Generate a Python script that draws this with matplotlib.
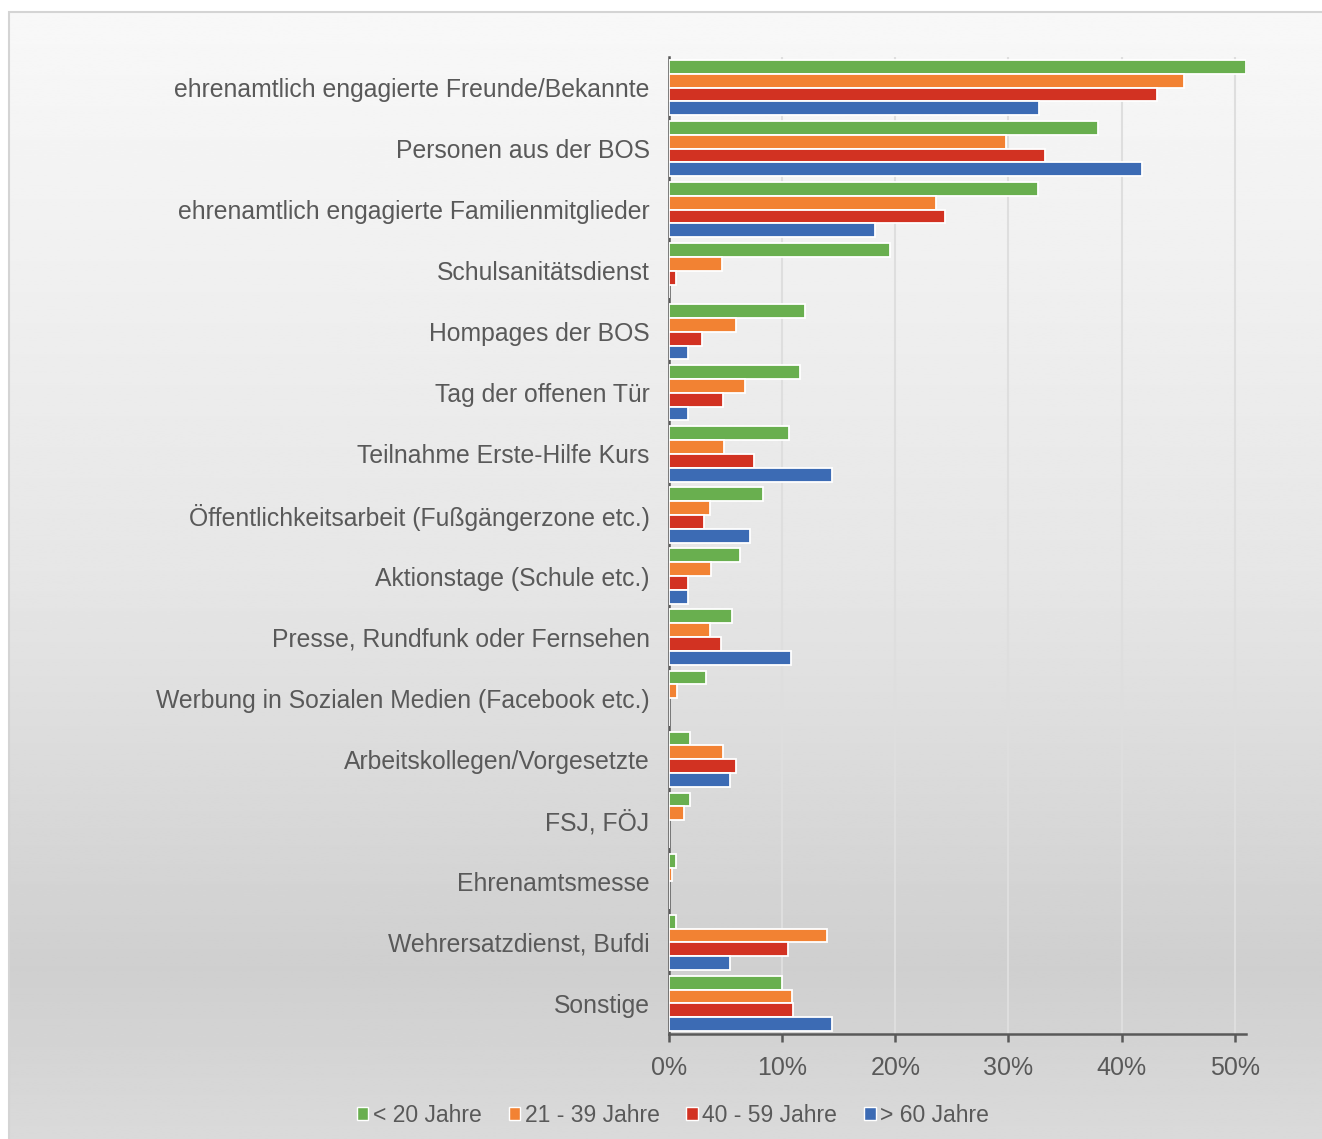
import numpy as np
import matplotlib
matplotlib.use("Agg")
import matplotlib.pyplot as plt
from matplotlib.patches import Patch, Rectangle
from matplotlib.ticker import FuncFormatter

plt.rcParams['font.family'] = ['Liberation Sans', 'DejaVu Sans']

categories = [
    "ehrenamtlich engagierte Freunde/Bekannte",
    "Personen aus der BOS",
    "ehrenamtlich engagierte Familienmitglieder",
    "Schulsanitätsdienst",
    "Hompages der BOS",
    "Tag der offenen Tür",
    "Teilnahme Erste-Hilfe Kurs",
    "Öffentlichkeitsarbeit (Fußgängerzone etc.)",
    "Aktionstage (Schule etc.)",
    "Presse, Rundfunk oder Fernsehen",
    "Werbung in Sozialen Medien (Facebook etc.)",
    "Arbeitskollegen/Vorgesetzte",
    "FSJ, FÖJ",
    "Ehrenamtsmesse",
    "Wehrersatzdienst, Bufdi",
    "Sonstige",
]

series_names = ["< 20 Jahre", "21 - 39 Jahre", "40 - 59 Jahre", "> 60 Jahre"]

# percentages per age group
unter_20 = [51.0, 37.9, 32.6, 19.5, 12.0, 11.6, 10.6, 8.3, 6.3, 5.6, 3.3, 1.9, 1.9, 0.6, 0.6, 10.0]
j21_39 = [45.5, 29.8, 23.6, 4.7, 5.9, 6.7, 4.9, 3.6, 3.7, 3.6, 0.7, 4.8, 1.3, 0.25, 14.0, 10.9]
j40_59 = [43.1, 33.2, 24.4, 0.6, 2.9, 4.8, 7.5, 3.1, 1.7, 4.6, 0.0, 5.9, 0.0, 0.0, 10.5, 11.0]
ueber_60 = [32.7, 41.8, 18.2, 0.0, 1.7, 1.7, 14.4, 7.2, 1.7, 10.8, 0.0, 5.4, 0.0, 0.0, 5.4, 14.4]

colors = ["#69af4f", "#f28233", "#d23222", "#3c6bb4"]
text_col = "#595959"

W, H = 1322, 1139
fig = plt.figure(figsize=(W / 100, H / 100), dpi=100)

# grey gradient background with thin border
bg = fig.add_axes([9 / W, 0, 1 - 9 / W, 1 - 12 / H], zorder=-10)
stops_y = [0.0, 0.5, 0.85, 1.0]
stops_v = [0.973, 0.902, 0.812, 0.855]
yy = np.linspace(0, 1, 400)
grad = np.interp(yy, stops_y, stops_v)[:, None]
bg.imshow(np.repeat(grad, 2, axis=1), cmap="gray", vmin=0, vmax=1,
          aspect="auto", extent=[0, 1, 0, 1], origin="upper")
bg.set_axis_off()
fig.patches.append(Rectangle((9 / W, -0.01), 1, 1 - 12 / H + 0.01,
                             transform=fig.transFigure, fill=False,
                             edgecolor="#d4d4d4", linewidth=1.5, zorder=-5))

ax = fig.add_axes([669 / W, 1 - 1034 / H, (1246 - 669) / W, (1034 - 57) / H])
ax.set_facecolor("none")

data = [unter_20, j21_39, j40_59, ueber_60]
y = np.arange(len(categories))
slot = 0.226
for j, vals in enumerate(data):
    ax.barh(y + (j - 1.5) * slot, vals, height=slot, color=colors[j],
            edgecolor="white", linewidth=1.3, label=series_names[j], zorder=3)

ax.set_ylim(-0.5, len(categories) - 0.5)
ax.invert_yaxis()
ax.set_xlim(0, 51)
ax.set_xticks(range(0, 51, 10))
ax.xaxis.set_major_formatter(FuncFormatter(lambda v, p: f"{v:.0f}%"))
ax.set_yticks(y)
ax.set_yticklabels(categories, fontsize=17.8, color=text_col)
ax.tick_params(axis="y", length=0, pad=14)
ax.tick_params(axis="x", length=6, width=1.8, color=text_col, pad=10,
               labelsize=18, labelcolor=text_col)

ax.grid(axis="x", color="#dedede", linewidth=1.5, zorder=0)
for s in ["top", "right"]:
    ax.spines[s].set_visible(False)
for s in ["left", "bottom"]:
    ax.spines[s].set_color(text_col)
    ax.spines[s].set_linewidth(1.8)

handles = [Patch(facecolor=c, edgecolor="white", linewidth=1) for c in colors]
fig.legend(handles, series_names, loc="center", bbox_to_anchor=(673 / W, 1 - 1115 / H),
           ncol=4, frameon=False, fontsize=16.5, labelcolor=text_col,
           handlelength=0.5, handleheight=0.5, handletextpad=0.2, columnspacing=1.17)

fig.savefig("out.png", dpi=100)
